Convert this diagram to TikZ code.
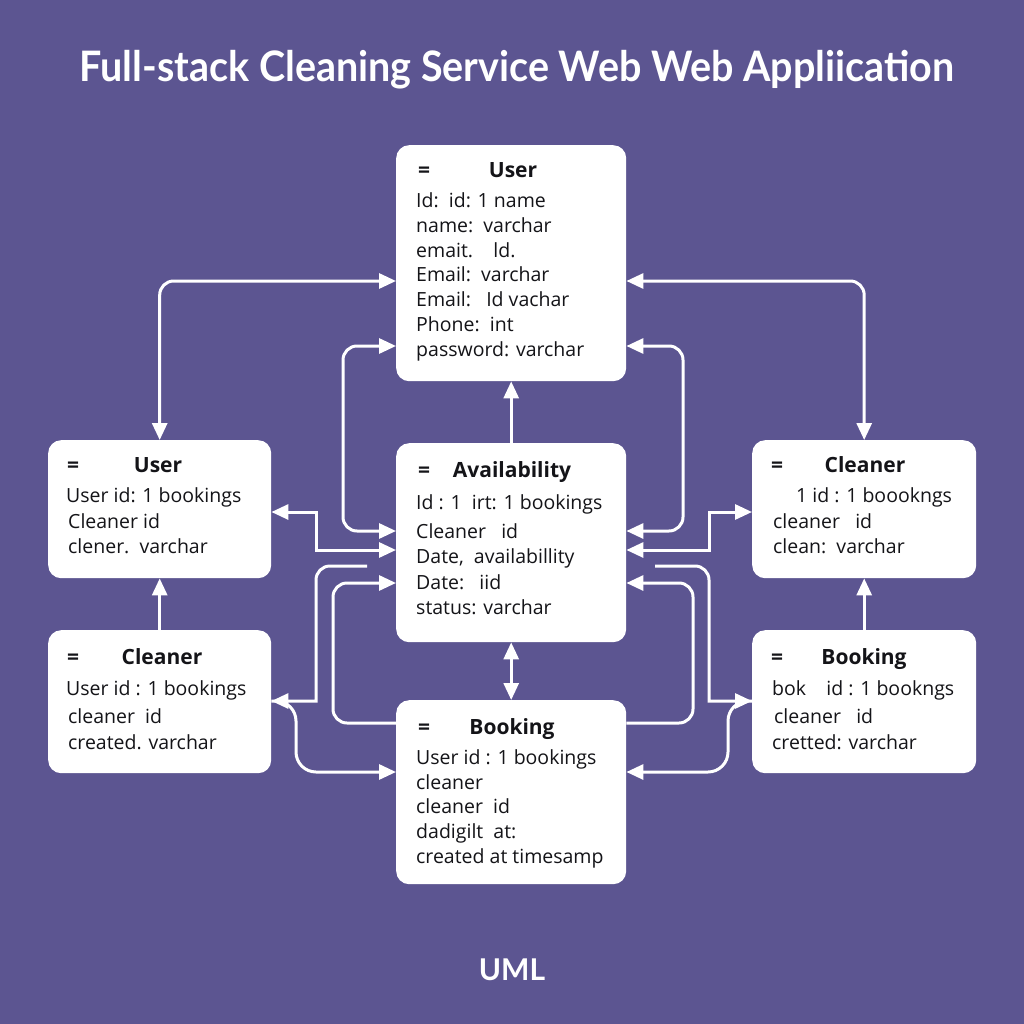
\documentclass[tikz,border=0pt]{standalone}
\usepackage{fontspec}
\usepackage{graphicx}
\setmainfont{Open Sans}
\newfontfamily\titlefont{Lato}
\usetikzlibrary{arrows.meta,calc}
\definecolor{bgpurple}{RGB}{92,85,145}
\definecolor{ink}{RGB}{20,20,24}
\tikzset{
  umlbox/.style={draw=none, fill=white, rounded corners=13pt, inner sep=0pt, anchor=north west},
  fieldtxt/.style={anchor=base west, inner sep=0pt, text=ink, font=\fontsize{19.5}{22}\selectfont},
  headtxt/.style={anchor=base, inner sep=0pt, text=ink, font=\fontsize{21}{24}\selectfont\bfseries},
  eqtxt/.style={anchor=base west, inner sep=0pt, text=ink, font=\fontsize{21}{24}\selectfont\bfseries},
  conn/.style={draw=white, line width=3pt, rounded corners=14pt},
  tipend/.style={-{Triangle[length=17pt,width=15pt]}},
  tipboth/.style={{Triangle[length=17pt,width=15pt]}-{Triangle[length=17pt,width=15pt]}},
}
\begin{document}
\begin{tikzpicture}[x=1pt,y=-1pt]
\fill[bgpurple] (0,0) rectangle (1024,1024);
\useasboundingbox (0,0) rectangle (1024,1024);

% title
\node[anchor=center, inner sep=0pt, text=white, font=\titlefont\fontsize{42}{46}\selectfont\bfseries] (title) at (517,70) {\scalebox{0.94}[1]{Full-stack Cleaning Service Web Web Appliication}};
\node[anchor=center, inner sep=0pt, text=white, font=\titlefont\fontsize{30}{34}\selectfont\bfseries] (uml) at (512,970) {UML};

% boxes
\node[umlbox, minimum width=230pt, minimum height=236pt] (tu) at (396,145) {};
\node[umlbox, minimum width=223pt, minimum height=138pt] (lu) at (48,440) {};
\node[umlbox, minimum width=230pt, minimum height=199pt] (av) at (396,443) {};
\node[umlbox, minimum width=224pt, minimum height=138pt] (rc) at (752,440) {};
\node[umlbox, minimum width=223pt, minimum height=143pt] (lc) at (48,630) {};
\node[umlbox, minimum width=224pt, minimum height=143pt] (rb) at (752,630) {};
\node[umlbox, minimum width=230pt, minimum height=184pt] (bk) at (396,700) {};

% top user text
\node[eqtxt] (tueq) at (418,178) {=};
\node[headtxt] (tuh) at (513,178) {User};
\node[fieldtxt] (tu1) at (416,208) {Id:\ \ id: 1 name};
\node[fieldtxt] (tu2) at (416,233) {name:\ \ varchar};
\node[fieldtxt] (tu3) at (416,257) {emait.\ \ \ \ ld.};
\node[fieldtxt] (tu4) at (416,281) {Email:\ \ varchar};
\node[fieldtxt] (tu5) at (416,306) {Email:\ \ \ Id vachar};
\node[fieldtxt] (tu6) at (416,331) {Phone:\ \ int};
\node[fieldtxt] (tu7) at (416,356) {password: varchar};

% left user
\node[eqtxt] (lueq) at (67,472) {=};
\node[headtxt] (luh) at (158,472) {User};
\node[fieldtxt] (lu1) at (66,502) {User id: 1 bookings};
\node[fieldtxt] (lu2) at (68,528) {Cleaner id};
\node[fieldtxt] (lu3) at (68,553) {clener.\ \ varchar};

% availability
\node[eqtxt] (aveq) at (418,477) {=};
\node[headtxt] (avh) at (512,477) {Availability};
\node[fieldtxt] (av1) at (416,509) {Id : 1\ \ irt: 1 bookings};
\node[fieldtxt] (av2) at (416,538) {Cleaner\ \ \ id};
\node[fieldtxt] (av3) at (416,563) {Date,\ \ availabillity};
\node[fieldtxt] (av4) at (416,589) {Date:\ \ \ iid};
\node[fieldtxt] (av5) at (416,614) {status: varchar};

% right cleaner
\node[eqtxt] (rceq) at (771,472) {=};
\node[headtxt] (rch) at (865,472) {Cleaner};
\node[fieldtxt] (rc1) at (796,502) {1 id : 1 boookngs};
\node[fieldtxt] (rc2) at (773,528) {cleaner\ \ \ id};
\node[fieldtxt] (rc3) at (773,553) {clean:\ \ varchar};

% left cleaner
\node[eqtxt] (lceq) at (67,664) {=};
\node[headtxt] (lch) at (162,664) {Cleaner};
\node[fieldtxt] (lc1) at (66,695) {User id : 1 bookings};
\node[fieldtxt] (lc2) at (68,723) {cleaner\ \ id};
\node[fieldtxt] (lc3) at (68,749) {created. varchar};

% right booking
\node[eqtxt] (rbeq) at (771,664) {=};
\node[headtxt] (rbh) at (864,664) {Booking};
\node[fieldtxt] (rb1) at (772,695) {bok\ \ \ \ id : 1 bookngs};
\node[fieldtxt] (rb2) at (774,723) {cleaner\ \ \ id};
\node[fieldtxt] (rb3) at (772,749) {cretted: varchar};

% bottom booking
\node[eqtxt] (bkeq) at (418,734) {=};
\node[headtxt] (bkh) at (512,734) {Booking};
\node[fieldtxt] (bk1) at (416,764) {User id : 1 bookings};
\node[fieldtxt] (bk2) at (416,789) {cleaner};
\node[fieldtxt] (bk3) at (416,813) {cleaner\ \ id};
\node[fieldtxt] (bk4) at (416,838) {dadigilt\ \ at:};
\node[fieldtxt] (bk5) at (416,863) {created at timesamp};

% free ends
\coordinate (f1) at (367,566);
\coordinate (f2) at (655,566);

% connectors
\draw[conn,tipboth] (tu.west |- 0,281) -| (lu.north);
\draw[conn,tipboth] (tu.east |- 0,281) -| (rc.north);
\draw[conn,tipboth] (tu.west |- 0,346) -| (343,531) -- (av.west |- 0,531);
\draw[conn,tipboth] (tu.east |- 0,346) -| (683,531) -- (av.east |- 0,531);
\draw[conn,tipend] (av.north) -- (tu.south);
\draw[conn,tipboth,sharp corners] (lu.east |- 0,512) -| (316,550) -- (av.west |- 0,550);
\draw[conn,tipboth,sharp corners] (rc.west |- 0,512) -| (709,550) -- (av.east |- 0,550);
\draw[conn,tipend] (f1) -- (316,566) [sharp corners] -- (316,701) -- (lc.east |- 0,701);
\draw[conn,tipend] (f2) -- (709,566) [sharp corners] -- (709,701) -- (rb.west |- 0,701);
\draw[conn,tipend] (bk.west |- 0,723) -| (333,583) -- (av.west |- 0,583);
\draw[conn,tipend] (bk.east |- 0,723) -| (693,583) -- (av.east |- 0,583);
\draw[conn,tipend,rounded corners=20pt] (lc.east |- 0,701) -- (296,701) -- (296,772) -- (bk.west |- 0,772);
\draw[conn,tipend,rounded corners=20pt] (rb.west |- 0,701) -- (728,701) -- (728,772) -- (bk.east |- 0,772);
\draw[conn,tipboth] (av.south) -- (bk.north);
\draw[conn,tipend] (lc.north) -- (lu.south);
\draw[conn,tipend] (rb.north) -- (rc.south);
\end{tikzpicture}
\end{document}
